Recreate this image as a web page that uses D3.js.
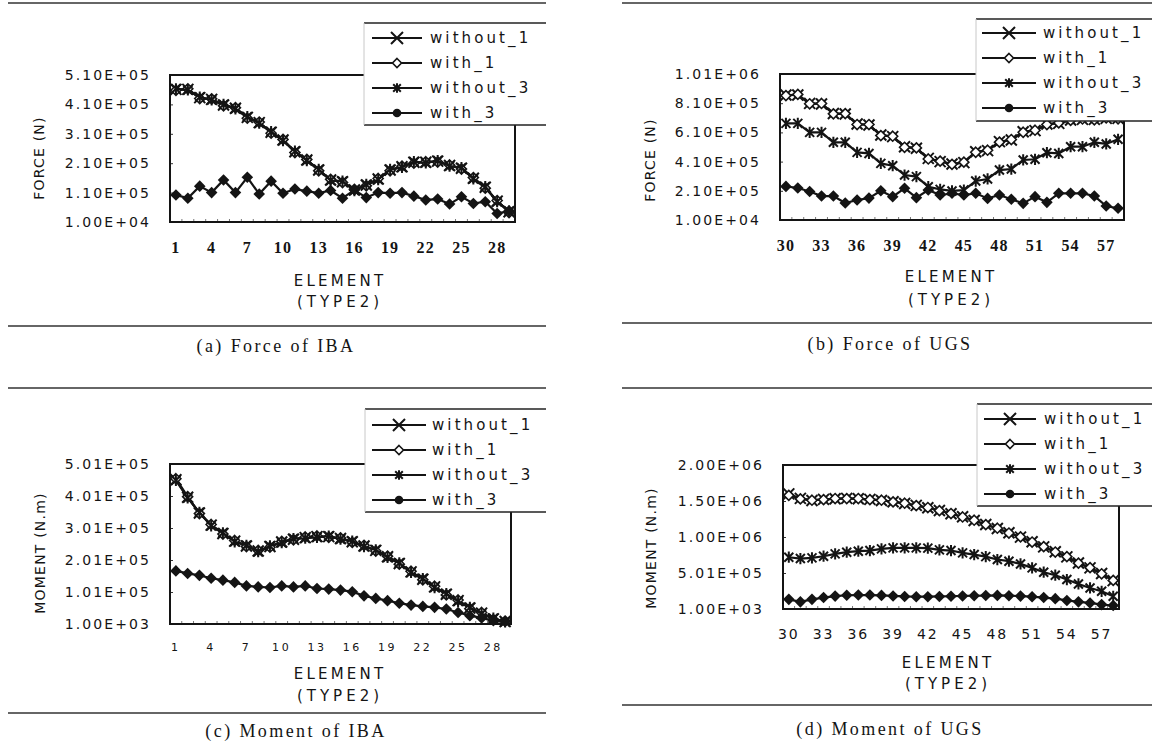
<!DOCTYPE html>
<html>
<head>
<meta charset="utf-8">
<script src="https://cdn.jsdelivr.net/npm/d3@7"></script>
<style>
  body { margin: 0; background: #fff; }
</style>
</head>
<body>
<svg id="fig" width="1152" height="742"></svg>
<script>
// ---- categories -------------------------------------------------------
const elementsIBA = [1,2,3,4,5,6,7,8,9,10,11,12,13,14,15,16,17,18,19,20,21,22,23,24,25,26,27,28,29];
const elementsUGS = [30,31,32,33,34,35,36,37,38,39,40,41,42,43,44,45,46,47,48,49,50,51,52,53,54,55,56,57,58];
const xTickLabelsIBA = [1,4,7,10,13,16,19,22,25,28];
const xTickLabelsUGS = [30,33,36,39,42,45,48,51,54,57];
const seriesNames = ["without_1", "with_1", "without_3", "with_3"];

// ---- y tick values and their printed labels ---------------------------
const forceTicksIBA = [1.0e4, 1.1e5, 2.1e5, 3.1e5, 4.1e5, 5.1e5];
const forceTickLabelsIBA = ["1.00E+04", "1.10E+05", "2.10E+05", "3.10E+05", "4.10E+05", "5.10E+05"];
const forceTicksUGS = [1.0e4, 2.1e5, 4.1e5, 6.1e5, 8.1e5, 1.01e6];
const forceTickLabelsUGS = ["1.00E+04", "2.10E+05", "4.10E+05", "6.10E+05", "8.10E+05", "1.01E+06"];
const momentTicksIBA = [1.0e3, 1.01e5, 2.01e5, 3.01e5, 4.01e5, 5.01e5];
const momentTickLabelsIBA = ["1.00E+03", "1.01E+05", "2.01E+05", "3.01E+05", "4.01E+05", "5.01E+05"];
const momentTicksUGS = [1.0e3, 5.01e5, 1.001e6, 1.501e6, 2.001e6];
const momentTickLabelsUGS = ["1.00E+03", "5.01E+05", "1.00E+06", "1.50E+06", "2.00E+06"];

// ---- (a) force of IBA, N ----------------------------------------------
const forceIBA_without1 = [461000,461000,433000,427000,408000,397000,366000,348000,315000,289000,249000,221000,187000,153000,147000,119000,136000,156000,187000,198000,213000,213000,217000,202000,193000,159000,128000,81000,45000];
const forceIBA_with1    = [458000,463000,430000,429000,405000,399000,363000,350000,312000,291000,246000,223000,184000,155000,144000,121000,133000,158000,184000,200000,210000,215000,214000,204000,190000,161000,125000,83000,42000];
const forceIBA_without3 = [463000,459000,435000,425000,410000,395000,368000,346000,317000,287000,251000,219000,189000,151000,149000,117000,138000,154000,189000,196000,215000,211000,219000,200000,195000,157000,130000,79000,47000];
const forceIBA_with3    = [102000,91000,132000,110000,153000,110000,162000,105000,149000,108000,122000,115000,108000,117000,91000,119000,93000,110000,108000,110000,98000,85000,88000,71000,96000,73000,79000,39000,48000];

// ---- (b) force of UGS, N ----------------------------------------------
const forceUGS_without1 = [866000,866000,809000,805000,740000,736000,668000,661000,592000,581000,512000,501000,432000,410000,394000,403000,478000,485000,547000,558000,615000,622000,668000,672000,695000,699000,699000,706000,706000];
const forceUGS_with1    = [862000,870000,806000,808000,737000,739000,664000,664000,588000,584000,508000,504000,428000,413000,391000,406000,474000,488000,543000,561000,611000,625000,664000,675000,692000,702000,696000,709000,703000];
const forceUGS_without3 = [672000,672000,610000,610000,542000,542000,473000,466000,398000,382000,318000,307000,238000,220000,209000,215000,277000,291000,352000,359000,421000,426000,471000,466000,512000,512000,542000,531000,563000];
const forceUGS_with3    = [240000,229000,205000,174000,174000,126000,147000,160000,210000,170000,227000,163000,215000,181000,193000,181000,193000,158000,181000,152000,124000,170000,131000,193000,193000,193000,174000,106000,90000];

// ---- (c) moment of IBA, N.m -------------------------------------------
const momentIBA_without1 = [452000,397000,348000,310000,284000,260000,245000,229000,243000,257000,266000,271000,274000,274000,268000,258000,245000,231000,211000,190000,164000,141000,117000,94000,74000,51000,35000,17000,9000];
const momentIBA_with1    = [455000,399000,346000,312000,282000,262000,243000,231000,241000,259000,264000,273000,276000,272000,270000,256000,247000,229000,213000,188000,166000,139000,119000,92000,76000,49000,37000,15000,10000];
const momentIBA_without3 = [450000,395000,350000,308000,286000,258000,247000,227000,245000,255000,268000,269000,272000,276000,266000,260000,243000,233000,209000,192000,162000,143000,115000,96000,72000,53000,33000,19000,8000];
const momentIBA_with3    = [167000,159000,153000,144000,138000,131000,120000,117000,115000,120000,117000,120000,112000,110000,107000,102000,89000,81000,74000,66000,60000,56000,53000,48000,37000,27000,20000,11000,9000];

// ---- (d) moment of UGS, N.m -------------------------------------------
const momentUGS_without1 = [1600000,1537000,1509000,1523000,1532000,1537000,1532000,1523000,1509000,1491000,1467000,1440000,1407000,1370000,1324000,1282000,1231000,1175000,1120000,1059000,999000,934000,864000,795000,725000,641000,572000,493000,395000];
const momentUGS_with1    = [1580000,1530000,1512000,1520000,1535000,1534000,1535000,1520000,1512000,1488000,1470000,1437000,1410000,1367000,1327000,1279000,1234000,1172000,1123000,1056000,1002000,931000,867000,792000,728000,638000,575000,490000,398000];
const momentUGS_without3 = [720000,702000,711000,734000,767000,790000,804000,813000,836000,850000,850000,850000,846000,822000,813000,781000,757000,729000,688000,665000,627000,572000,512000,470000,410000,349000,293000,247000,177000];
const momentUGS_with3    = [135000,100000,135000,160000,180000,192000,195000,195000,190000,182000,175000,172000,172000,175000,178000,182000,185000,188000,190000,186000,180000,172000,160000,145000,120000,100000,85000,62000,50000];

// ---- panel layout -----------------------------------------------------
const panels = [
  {
    categories: elementsIBA, xTicks: xTickLabelsIBA, xTickStyle: "serif",
    series: [forceIBA_without1, forceIBA_with1, forceIBA_without3, forceIBA_with3],
    ticks: forceTicksIBA, tickLabels: forceTickLabelsIBA,
    yTitle: "FORCE (N)", caption: "(a) Force of IBA",
    box: { left: 170, right: 515, top: 75, bottom: 222 },
    yTitlePos: [39, 158], xTitlePos: [340, 281, 302],
    legend: { x0: 364, x1: 546, y0: 23, y1: 125, rows: 38, step: 25, l0: 372, l1: 422, t: 430 },
    rules: { x0: 8, x1: 546, top: 3, bottom: 326 }, captionPos: [276, 346]
  },
  {
    categories: elementsUGS, xTicks: xTickLabelsUGS, xTickStyle: "serif",
    series: [forceUGS_without1, forceUGS_with1, forceUGS_without3, forceUGS_with3],
    ticks: forceTicksUGS, tickLabels: forceTickLabelsUGS,
    yTitle: "FORCE (N)", caption: "(b) Force of UGS",
    box: { left: 780, right: 1124, top: 74, bottom: 220 },
    yTitlePos: [650, 160], xTitlePos: [951, 277, 300],
    legend: { x0: 976, x1: 1160, y0: 19, y1: 121, rows: 33, step: 25, l0: 982, l1: 1036, t: 1043 },
    rules: { x0: 622, x1: 1152, top: 3, bottom: 323 }, captionPos: [890, 344]
  },
  {
    categories: elementsIBA, xTicks: xTickLabelsIBA, xTickStyle: "small",
    series: [momentIBA_without1, momentIBA_with1, momentIBA_without3, momentIBA_with3],
    ticks: momentTicksIBA, tickLabels: momentTickLabelsIBA,
    yTitle: "MOMENT (N.m)", caption: "(c) Moment of IBA",
    box: { left: 170, right: 511, top: 464, bottom: 624 },
    yTitlePos: [40, 553], xTitlePos: [340, 674, 696],
    legend: { x0: 365, x1: 546, y0: 409, y1: 512, rows: 425, step: 25, l0: 372, l1: 426, t: 432 },
    rules: { x0: 8, x1: 546, top: 388, bottom: 713 }, captionPos: [296, 731]
  },
  {
    categories: elementsUGS, xTicks: xTickLabelsUGS, xTickStyle: "sans",
    series: [momentUGS_without1, momentUGS_with1, momentUGS_without3, momentUGS_with3],
    ticks: momentTicksUGS, tickLabels: momentTickLabelsUGS,
    yTitle: "MOMENT (N.m)", caption: "(d) Moment of UGS",
    box: { left: 783, right: 1119, top: 465, bottom: 609 },
    yTitlePos: [651, 548], xTitlePos: [948, 663, 684],
    legend: { x0: 977, x1: 1160, y0: 404, y1: 506, rows: 419, step: 25, l0: 984, l1: 1036, t: 1044 },
    rules: { x0: 622, x1: 1152, top: 388, bottom: 705 }, captionPos: [890, 729]
  }
];

const SANS = "'DejaVu Sans', 'Liberation Sans', sans-serif";
const SERIF = "'Liberation Serif', 'DejaVu Serif', serif";
const INK = "#141414";

const svg = d3.select("#fig");
svg.append("rect").attr("width", 1152).attr("height", 742).attr("fill", "#fff");

// helper for text styling (style() so nothing overrides it)
function styleText(sel, family, size, spacing) {
  return sel.style("font-family", family).style("font-size", size + "px")
    .style("letter-spacing", spacing + "px").style("fill", INK);
}

// marker glyphs, one per series
const markerKinds = ["cross", "diamondOpen", "star", "diamondFilled"];
function drawMarker(g, kind, x, y, legend) {
  if (kind === "cross") {
    const s = legend ? 6 : 5.5;
    g.append("path").attr("d", `M${x - s},${y - s}L${x + s},${y + s}M${x - s},${y + s}L${x + s},${y - s}`)
      .attr("stroke", INK).attr("stroke-width", 2).attr("fill", "none");
  } else if (kind === "diamondOpen") {
    const r = legend ? 4.5 : 5;
    g.append("path").attr("d", `M${x},${y - r}L${x + r},${y}L${x},${y + r}L${x - r},${y}Z`)
      .attr("stroke", INK).attr("stroke-width", 1.6).attr("fill", "#fff");
  } else if (kind === "star") {
    const s = legend ? 3.8 : 4.5;
    g.append("path").attr("d", `M${x - s},${y - s}L${x + s},${y + s}M${x - s},${y + s}L${x + s},${y - s}M${x},${y - s * 1.25}L${x},${y + s * 1.25}`)
      .attr("stroke", INK).attr("stroke-width", 2).attr("fill", "none");
  } else {
    if (legend) {
      g.append("circle").attr("cx", x).attr("cy", y).attr("r", 4.3).attr("fill", INK);
    } else {
      const r = 5.8;
      g.append("path").attr("d", `M${x},${y - r}L${x + r},${y}L${x},${y + r}L${x - r},${y}Z`).attr("fill", INK);
    }
  }
}

function drawPanel(p) {
  const g = svg.append("g");
  const b = p.box;
  const x = d3.scaleBand().domain(p.categories).range([b.left, b.right]);
  const y = d3.scaleLinear().domain([p.ticks[0], p.ticks[p.ticks.length - 1]]).range([b.bottom, b.top]);
  const cx = c => x(c) + x.bandwidth() / 2;

  // separating rules above and below the figure
  [p.rules.top, p.rules.bottom].forEach(ry => {
    g.append("line").attr("x1", p.rules.x0).attr("x2", p.rules.x1).attr("y1", ry).attr("y2", ry)
      .attr("stroke", "#333").attr("stroke-width", 1.3);
  });

  // y axis: inward ticks, scientific labels
  const yAxis = d3.axisLeft(y).tickValues(p.ticks).tickFormat((d, i) => p.tickLabels[i])
    .tickSize(-3).tickPadding(19);
  const ya = g.append("g").attr("transform", `translate(${b.left},0)`).call(yAxis);
  ya.select(".domain").remove();
  ya.selectAll("line").attr("stroke", "#333");
  styleText(ya.selectAll("text"), SANS, 14, 2.1);

  // x axis: every third element labelled
  const xAxis = d3.axisBottom(x).tickValues(p.xTicks).tickSize(0).tickPadding(p.xTickStyle === "small" ? 19 : 20);
  const xa = g.append("g").attr("transform", `translate(0,${b.bottom})`).call(xAxis);
  xa.select(".domain").remove();
  const xt = xa.selectAll("text");
  if (p.xTickStyle === "serif") {
    styleText(xt, SERIF, 16, 1.2).style("font-weight", "bold");
  } else if (p.xTickStyle === "small") {
    styleText(xt, SANS, 11, 2.6);
  } else {
    styleText(xt, SANS, 14, 2);
  }

  // faint category tick marks along the bottom edge
  const bounds = p.categories.map(c => x(c)).concat([b.right]);
  g.append("g").selectAll("line").data(bounds).join("line")
    .attr("x1", d => d).attr("x2", d => d).attr("y1", b.bottom).attr("y2", b.bottom - 3)
    .attr("stroke", "#777").attr("stroke-width", 1);

  // plot frame
  g.append("rect").attr("x", b.left).attr("y", b.top).attr("width", b.right - b.left).attr("height", b.bottom - b.top)
    .attr("fill", "none").attr("stroke", INK).attr("stroke-width", 2);

  // series: line then markers, drawn in legend order
  const line = d3.line().x((d, i) => cx(p.categories[i])).y(d => y(d));
  p.series.forEach((vals, si) => {
    const sg = g.append("g");
    sg.append("path").datum(vals).attr("d", line).attr("fill", "none")
      .attr("stroke", INK).attr("stroke-width", 2.2);
    vals.forEach((v, i) => drawMarker(sg, markerKinds[si], cx(p.categories[i]), y(v), false));
  });

  // legend box (white, covering the plot corner)
  const L = p.legend;
  g.append("rect").attr("x", L.x0).attr("y", L.y0).attr("width", L.x1 - L.x0).attr("height", L.y1 - L.y0)
    .attr("fill", "#fff").attr("stroke", "none");
  [L.y0, L.y1].forEach(ly => {
    g.append("line").attr("x1", L.x0).attr("x2", L.x1).attr("y1", ly).attr("y2", ly)
      .attr("stroke", "#222").attr("stroke-width", 1.3);
  });
  g.append("line").attr("x1", L.x0).attr("x2", L.x0).attr("y1", L.y0).attr("y2", L.y1)
    .attr("stroke", "#c8c8c8").attr("stroke-width", 1);
  seriesNames.forEach((name, si) => {
    const ry = L.rows + si * L.step;
    g.append("line").attr("x1", L.l0).attr("x2", L.l1).attr("y1", ry).attr("y2", ry)
      .attr("stroke", INK).attr("stroke-width", 2);
    drawMarker(g, markerKinds[si], (L.l0 + L.l1) / 2, ry, true);
    styleText(g.append("text").attr("x", L.t).attr("y", ry).attr("dy", "0.36em"), SANS, 15, 3.1).text(name);
  });

  // axis titles
  styleText(g.append("text").attr("transform", `translate(${p.yTitlePos[0]},${p.yTitlePos[1]}) rotate(-90)`)
    .attr("text-anchor", "middle").attr("dy", "0.36em"), SANS, 14, 1.2).text(p.yTitle);
  styleText(g.append("text").attr("x", p.xTitlePos[0]).attr("y", p.xTitlePos[1]).attr("dy", "0.36em")
    .attr("text-anchor", "middle"), SANS, 15, 3.2).text("ELEMENT");
  styleText(g.append("text").attr("x", p.xTitlePos[0]).attr("y", p.xTitlePos[2]).attr("dy", "0.36em")
    .attr("text-anchor", "middle"), SANS, 15, 4).text("(TYPE2)");

  // caption under the figure
  styleText(g.append("text").attr("x", p.captionPos[0]).attr("y", p.captionPos[1]).attr("dy", "0.36em")
    .attr("text-anchor", "middle"), SERIF, 18, 2.4).text(p.caption);
}

panels.forEach(drawPanel);
</script>
</body>
</html>
